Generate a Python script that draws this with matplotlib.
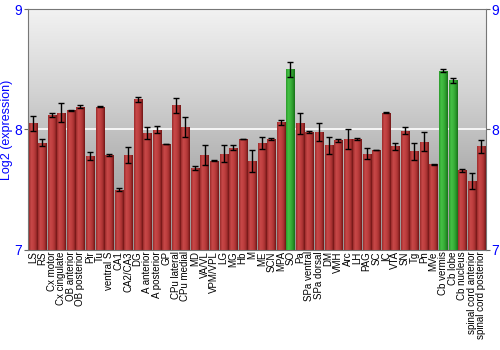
import numpy as np
import matplotlib
matplotlib.use("Agg")
import matplotlib.pyplot as plt
from matplotlib.colors import LinearSegmentedColormap

plt.rcParams["font.family"] = ["Liberation Sans", "DejaVu Sans"]

regions = ["LS", "RS", "Cx motor", "Cx cingulate", "OB anterior", "OB posterior",
           "Pir", "Tu", "ventral S", "CA1", "CA2/CA3", "DG", "A anterior",
           "A posterior", "GP", "CPu lateral", "CPu medial", "MD", "VA/VL",
           "VPM/VPL", "LG", "MG", "Hb", "M", "ME", "SCN", "MPA", "SO", "Pa",
           "SPa ventral", "SPa dorsal", "DM", "VMH", "Arc", "LH", "PAG", "SC",
           "IC", "VTA", "SN", "Tg", "Pn", "MVe", "Cb vermis", "Cb lobe",
           "Cb nucleus", "spinal cord anterior", "spinal cord posterior"]

values = [8.05, 7.89, 8.12, 8.14, 8.16, 8.19, 7.78, 8.19, 7.79, 7.50, 7.79, 8.25,
          7.97, 8.00, 7.88, 8.20, 8.02, 7.68, 7.79, 7.74, 7.80, 7.85, 7.92, 7.74,
          7.89, 7.92, 8.06, 8.50, 8.05, 7.98, 7.98, 7.87, 7.91, 7.92, 7.92, 7.80,
          7.83, 8.14, 7.86, 7.99, 7.82, 7.90, 7.71, 8.49, 8.41, 7.66, 7.57, 7.86]

errors = [0.06, 0.03, 0.015, 0.08, 0.003, 0.01, 0.03, 0.003, 0.01, 0.01, 0.065, 0.02,
          0.05, 0.03, 0.003, 0.06, 0.08, 0.015, 0.085, 0.003, 0.07, 0.02, 0.003, 0.09,
          0.05, 0.01, 0.02, 0.06, 0.085, 0.01, 0.075, 0.07, 0.015, 0.08, 0.01, 0.045,
          0.003, 0.003, 0.03, 0.03, 0.07, 0.08, 0.003, 0.01, 0.02, 0.01, 0.065, 0.055]

highlight = ["SO", "Cb vermis", "Cb lobe"]

red_cmap = LinearSegmentedColormap.from_list("red", ["#9a2a2a", "#c84848", "#c04040", "#a83232", "#701414"])
green_cmap = LinearSegmentedColormap.from_list("green", ["#2a9a2a", "#44c044", "#3cb43c", "#2c9a2c", "#187018"])

fig = plt.figure(figsize=(5, 3.5), dpi=100)
ax = fig.add_axes([0.056, 0.286, 0.916, 0.688])

x = np.arange(len(regions))
ymin = 7

# background gradient, light at top
bg = np.linspace(0, 1, 256).reshape(-1, 1)
bg_cmap = LinearSegmentedColormap.from_list("bg", ["#f2f2f2", "#d4d4d4", "#b0b0b0", "#969696"])
ax.imshow(bg, cmap=bg_cmap, aspect="auto", extent=[-0.5, len(regions) - 0.5, 7, 9],
          origin="upper", zorder=0, interpolation="bilinear")
ax.axhline(8, color="white", lw=1.2, zorder=1)

bars = ax.bar(x, np.array(values) - ymin, bottom=ymin, width=0.85, color="none",
              edgecolor="none", zorder=2)
grad = np.linspace(0, 1, 64).reshape(1, -1)
for b, name in zip(bars, regions):
    cmap = green_cmap if name in highlight else red_cmap
    im = ax.imshow(grad, cmap=cmap, aspect="auto", zorder=2,
                   extent=[b.get_x(), b.get_x() + b.get_width(), ymin, ymin + b.get_height()])
    im.set_clip_path(b)

ax.errorbar(x, values, yerr=errors, fmt="none", ecolor="black", elinewidth=1,
            capsize=2, capthick=1, zorder=3)

ax.set_xlim(-0.5, len(regions) - 0.5)
ax.set_ylim(7, 9)
ax.set_yticks([7, 8, 9])
ax.set_xticks(x)
ax.set_xticklabels(regions, rotation=90, fontsize=7)
ax.tick_params(axis="x", length=0, pad=1)
ax.tick_params(axis="y", labelcolor="blue", labelsize=10, length=3, color="#666666",
               right=True, labelright=True, pad=1)
ax.set_ylabel("Log2 (expression)", color="blue", fontsize=9, labelpad=1)
for s in ax.spines.values():
    s.set_color("#777777")

fig.savefig("out.png", dpi=100)
